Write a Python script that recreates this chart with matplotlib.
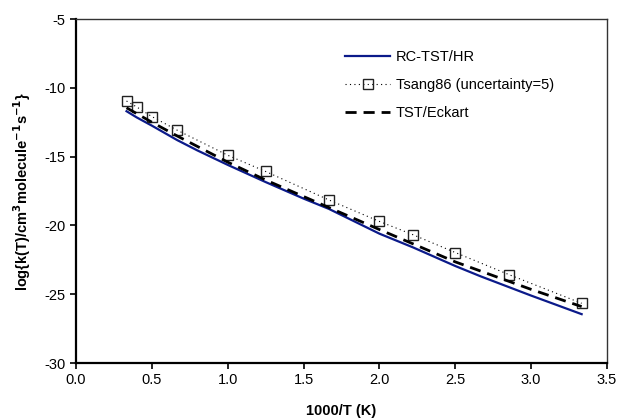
import matplotlib
matplotlib.use("Agg")
import matplotlib.pyplot as plt

plt.rcParams['font.family'] = ['Liberation Sans', 'DejaVu Sans']
plt.rcParams['axes.unicode_minus'] = False

# 1000/T grid (K^-1) and log10 k values
x_rc = [0.333, 0.4, 0.5, 0.667, 0.8, 1.0, 1.25, 1.5, 1.667, 2.0, 2.222, 2.5, 2.667, 3.0, 3.333]
logk_rc = [-11.70, -12.15, -12.75, -13.80, -14.55, -15.60, -16.85, -18.05, -18.80,
           -20.60, -21.60, -22.95, -23.70, -25.10, -26.45]

x_eck = [0.333, 0.5, 0.667, 1.0, 1.25, 1.5, 1.667, 2.0, 2.5, 3.0, 3.333]
logk_eck = [-11.45, -12.50, -13.50, -15.40, -16.70, -17.90, -18.70, -20.30, -22.65, -24.65, -25.90]

x_tsang = [0.333, 0.4, 0.5, 0.667, 1.0, 1.25, 1.667, 2.0, 2.222, 2.5, 2.857, 3.333]
logk_tsang = [-10.96, -11.39, -12.09, -13.08, -14.90, -16.08, -18.15, -19.71, -20.68,
              -21.97, -23.59, -25.66]

xticks = [0.0, 0.5, 1.0, 1.5, 2.0, 2.5, 3.0, 3.5]
yticks = [-30, -25, -20, -15, -10, -5]

fig = plt.figure(figsize=(6.2, 4.2), dpi=100)
ax = fig.add_axes([0.1226, 0.1357, 0.8564, 0.8190])

ax.plot(x_rc, logk_rc, color='#0b1a8a', lw=1.6, label='RC-TST/HR')
ax.plot(x_tsang, logk_tsang, color='black', lw=0.8, linestyle=(0, (1, 3)),
        marker='s', markersize=7, markerfacecolor='none', markeredgecolor='#222222',
        markeredgewidth=1.0, label='Tsang86 (uncertainty=5)')
ax.plot(x_eck, logk_eck, color='black', lw=2.0, linestyle=(0, (4, 2.5)),
        label='TST/Eckart')

ax.set_xlim(0.0, 3.5)
ax.set_ylim(-30, -5)
ax.set_xticks(xticks)
ax.set_xticklabels([f"{t:.1f}" for t in xticks])
ax.set_yticks(yticks)
ax.tick_params(direction='out', length=4, width=1.2, labelsize=10.5, colors='black')

for side in ['left', 'bottom']:
    ax.spines[side].set_linewidth(1.6)
for side in ['top', 'right']:
    ax.spines[side].set_linewidth(1.0)
    ax.spines[side].set_color('#333333')

ax.set_xlabel('1000/T (K)', fontsize=10.5, fontweight='bold', labelpad=12)
ax.set_ylabel('log{k(T)/cm$^{\\mathbf{3}}$molecule$^{\\mathbf{-1}}$s$^{\\mathbf{-1}}$}',
              fontsize=10.5, fontweight='bold', labelpad=8)

ax.legend(loc='upper left', bbox_to_anchor=(0.507, 0.91), frameon=False,
          fontsize=10.5, handlelength=3.1, handletextpad=0.35, labelspacing=0.95,
          borderpad=0, borderaxespad=0)

fig.savefig('out.png', dpi=100)
